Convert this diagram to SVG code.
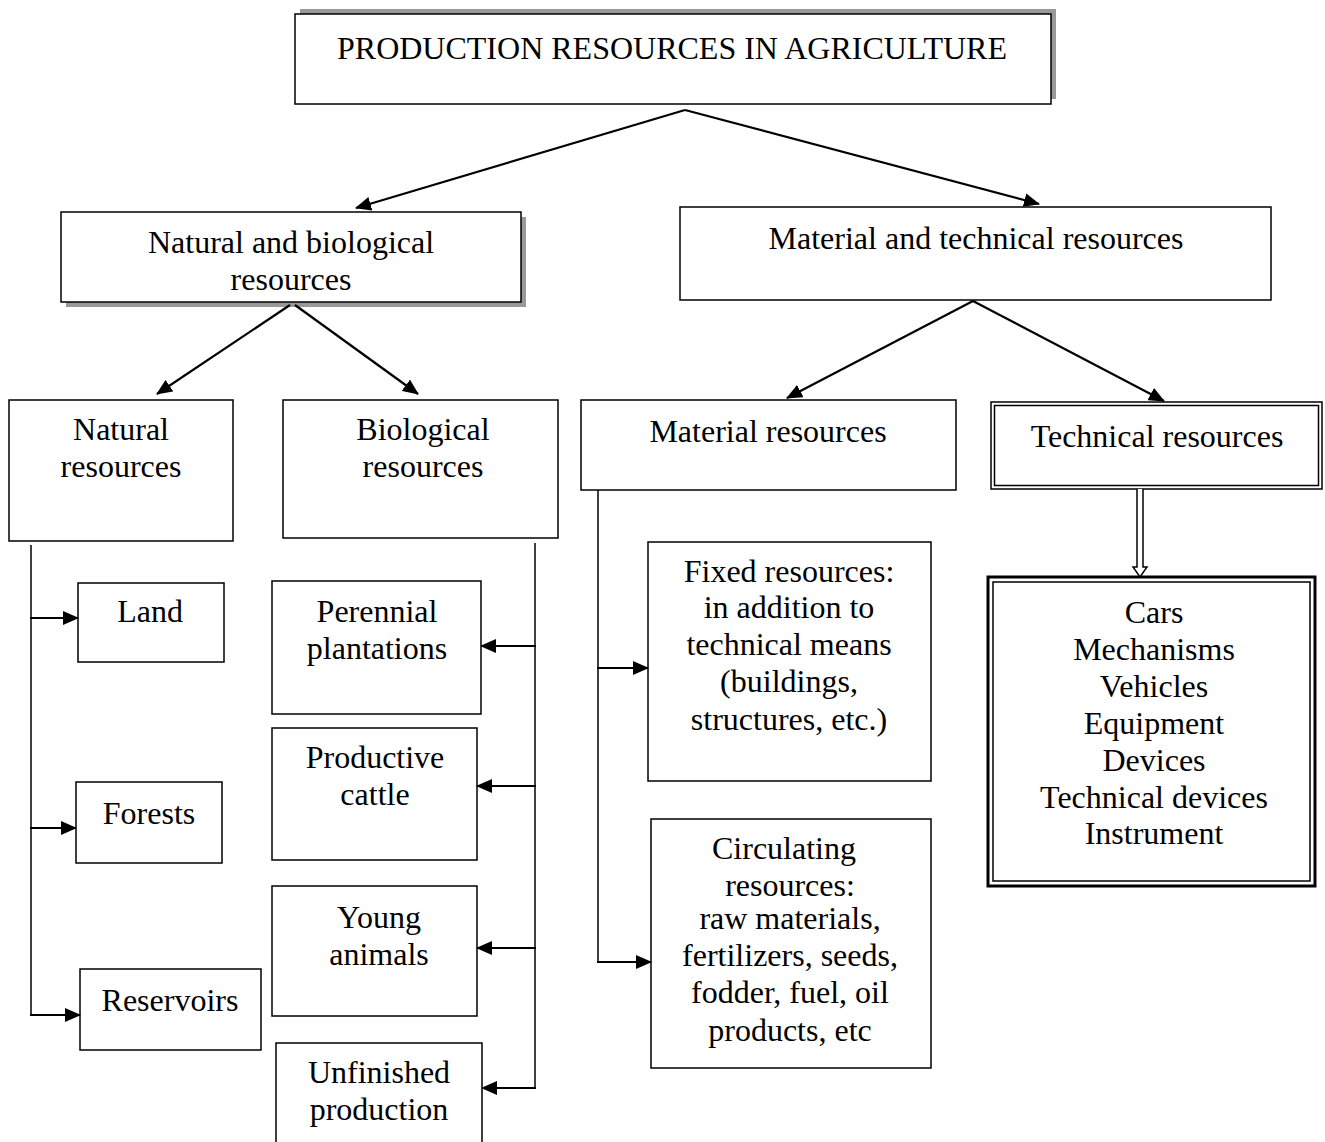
<svg xmlns="http://www.w3.org/2000/svg" width="1325" height="1142" viewBox="0 0 1325 1142">
<style>
.box{fill:#fff;stroke:#000;stroke-width:1.5}
.shadow{fill:#999;stroke:none}
.t{font-family:"Liberation Serif","Times New Roman",serif;font-size:32px;fill:#000;text-anchor:middle}
.ln{stroke:#000;stroke-width:1.5;fill:none}
.ar{stroke:#000;stroke-width:2.2;fill:none;marker-end:url(#ah)}
</style>
<defs>
<marker id="ah" markerUnits="userSpaceOnUse" markerWidth="16" markerHeight="14" refX="15" refY="7" orient="auto">
<path d="M0,0 L16,7 L0,14 Z" fill="#000"/>
</marker>
</defs>
<rect width="1325" height="1142" fill="#fff"/>

<g id="root">
<rect class="shadow" x="300" y="9" width="756" height="90"/>
<rect class="box" x="295" y="14" width="756" height="90"/>
<text class="t" x="672" y="59">PRODUCTION RESOURCES IN AGRICULTURE</text>
</g>

<g id="natbio">
<rect class="shadow" x="66" y="217" width="460" height="90"/>
<rect class="box" x="61" y="212" width="460" height="90"/>
<text class="t" x="291" y="253">Natural and biological</text>
<text class="t" x="291" y="290">resources</text>
</g>

<g id="mattech">
<rect class="box" x="680" y="207" width="591" height="93"/>
<text class="t" x="976" y="249">Material and technical resources</text>
</g>

<g id="natural">
<rect class="box" x="9" y="400" width="224" height="141"/>
<text class="t" x="121" y="440">Natural</text>
<text class="t" x="121" y="477">resources</text>
</g>

<g id="biological">
<rect class="box" x="283" y="400" width="275" height="138"/>
<text class="t" x="423" y="440">Biological</text>
<text class="t" x="423" y="477">resources</text>
</g>

<g id="material">
<rect class="box" x="581" y="400" width="375" height="90"/>
<text class="t" x="768" y="442">Material resources</text>
</g>

<g id="technical">
<rect class="box" x="991" y="402" width="331" height="87"/>
<rect class="box" x="994.5" y="405.5" width="324" height="80"/>
<text class="t" x="1157" y="447">Technical resources</text>
</g>

<g id="cars">
<rect x="988" y="577" width="327" height="309" fill="#fff" stroke="#000" stroke-width="3"/>
<rect class="box" x="993" y="582" width="317" height="299"/>
<text class="t" x="1154" y="623">Cars</text>
<text class="t" x="1154" y="660">Mechanisms</text>
<text class="t" x="1154" y="697">Vehicles</text>
<text class="t" x="1154" y="734">Equipment</text>
<text class="t" x="1154" y="771">Devices</text>
<text class="t" x="1154" y="808">Technical devices</text>
<text class="t" x="1154" y="844">Instrument</text>
</g>

<g id="land">
<rect class="box" x="78" y="583" width="146" height="79"/>
<text class="t" x="150" y="622">Land</text>
</g>

<g id="forests">
<rect class="box" x="76" y="782" width="146" height="81"/>
<text class="t" x="149" y="824">Forests</text>
</g>

<g id="reservoirs">
<rect class="box" x="80" y="969" width="181" height="81"/>
<text class="t" x="170" y="1011">Reservoirs</text>
</g>

<g id="perennial">
<rect class="box" x="272" y="581" width="209" height="133"/>
<text class="t" x="377" y="622">Perennial</text>
<text class="t" x="377" y="659">plantations</text>
</g>

<g id="cattle">
<rect class="box" x="272" y="728" width="205" height="132"/>
<text class="t" x="375" y="768">Productive</text>
<text class="t" x="375" y="805">cattle</text>
</g>

<g id="young">
<rect class="box" x="272" y="886" width="205" height="130"/>
<text class="t" x="379" y="928">Young</text>
<text class="t" x="379" y="965">animals</text>
</g>

<g id="unfinished">
<rect class="box" x="276" y="1043" width="206" height="110"/>
<text class="t" x="379" y="1083">Unfinished</text>
<text class="t" x="379" y="1120">production</text>
</g>

<g id="fixed">
<rect class="box" x="648" y="542" width="283" height="239"/>
<text class="t" x="789" y="582">Fixed resources:</text>
<text class="t" x="789" y="618">in addition to</text>
<text class="t" x="789" y="655">technical means</text>
<text class="t" x="789" y="692">(buildings,</text>
<text class="t" x="789" y="730">structures, etc.)</text>
</g>

<g id="circulating">
<rect class="box" x="651" y="819" width="280" height="249"/>
<text class="t" x="784" y="859">Circulating</text>
<text class="t" x="790" y="896">resources:</text>
<text class="t" x="790" y="929">raw materials,</text>
<text class="t" x="790" y="966">fertilizers, seeds,</text>
<text class="t" x="790" y="1003">fodder, fuel, oil</text>
<text class="t" x="790" y="1041">products, etc</text>
</g>

<g id="connectors">
<line class="ar" x1="685" y1="110" x2="356" y2="208"/>
<line class="ar" x1="685" y1="110" x2="1039" y2="204"/>
<line class="ar" x1="290" y1="305" x2="157" y2="394"/>
<line class="ar" x1="295" y1="305" x2="418" y2="394"/>
<line class="ar" x1="973" y1="301" x2="787" y2="398"/>
<line class="ar" x1="973" y1="301" x2="1164" y2="401"/>

<line class="ln" x1="31" y1="545" x2="31" y2="1015"/>
<line class="ar" x1="30" y1="618" x2="78" y2="618"/>
<line class="ar" x1="30" y1="828" x2="76" y2="828"/>
<line class="ar" x1="30" y1="1015" x2="80" y2="1015"/>

<line class="ln" x1="535" y1="543" x2="535" y2="1088"/>
<line class="ar" x1="536" y1="646" x2="481" y2="646"/>
<line class="ar" x1="536" y1="786" x2="477" y2="786"/>
<line class="ar" x1="536" y1="948" x2="477" y2="948"/>
<line class="ar" x1="536" y1="1088" x2="482" y2="1088"/>

<line class="ln" x1="598" y1="490" x2="598" y2="962"/>
<line class="ar" x1="597" y1="668" x2="648" y2="668"/>
<line class="ar" x1="597" y1="962" x2="651" y2="962"/>

<path d="M1137,489 V567 H1133 L1140,577 L1147,567 H1143 V489" fill="#fff" stroke="#000" stroke-width="1.5"/>
</g>
</svg>
